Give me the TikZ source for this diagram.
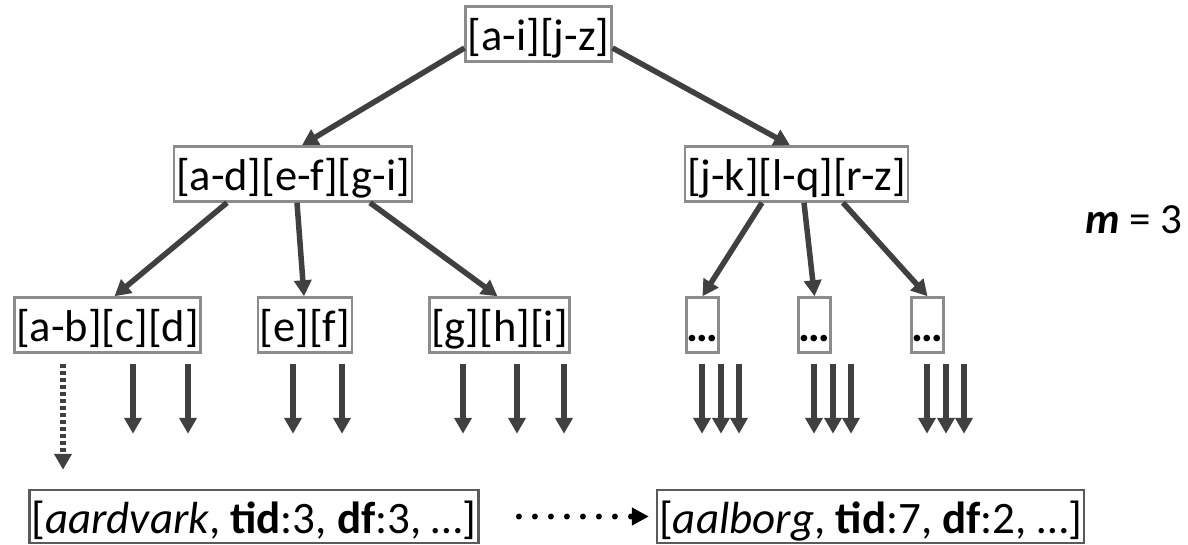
\documentclass[tikz,border=0pt]{standalone}
\usepackage{fontspec}
\setmainfont{Carlito}
\usetikzlibrary{arrows.meta}
\definecolor{edgegray}{HTML}{404040}
\definecolor{boxgray}{HTML}{8C8C8C}
\definecolor{leafgray}{HTML}{5A5A5A}
\begin{document}
\begin{tikzpicture}[x=1pt,y=-1pt,
  keybox/.style={draw=boxgray,line width=2.5pt,fill=white,inner xsep=2pt,inner ysep=2pt,
    text height=42pt,text depth=9pt,font=\fontsize{44.5}{50}\selectfont,anchor=center},
  postbox/.style={draw=leafgray,line width=2.5pt,fill=white,inner xsep=2pt,inner ysep=2pt,
    text height=41pt,text depth=8pt,font=\fontsize{45}{50}\selectfont},
  treeedge/.style={draw=edgegray,line width=5.5pt,-{Triangle[width=17pt,length=16pt]}},
  ptr/.style={draw=edgegray,line width=5.5pt,-{Triangle[width=17pt,length=16pt]}},
  ptrdots/.style={ptr,dash pattern=on 4pt off 3pt},
  listlink/.style={draw=black,line width=6pt,line cap=round,dash pattern=on 0pt off 16pt,
    -{Triangle[width=17pt,length=17pt,line cap=butt]}}
]
\useasboundingbox (0,0) rectangle (1188,545);

% root and inner levels of the B-tree
\node[keybox] (root) at (538.5,34) {[a-i][j-z]};
\node[keybox] (ag) at (293,174) {[a-d][e-f][g-i]};
\node[keybox] (jz) at (796.5,174) {[j-k][l-q][r-z]};

\node[keybox] (ad) at (107.5,325) {[a-b][c][d]};
\node[keybox] (ef) at (305,325) {[e][f]};
\node[keybox] (gi) at (499.5,325) {[g][h][i]};
\node[keybox,inner xsep=0pt] (r1) at (702.5,325) {\textbf{…}};
\node[keybox,inner xsep=0pt] (r2) at (814.5,325) {\textbf{…}};
\node[keybox,inner xsep=0pt] (r3) at (927.5,325) {\textbf{…}};

% branching factor
\node[font=\fontsize{43}{50}\selectfont,anchor=center] (mlabel) at (1134,220) {\textbf{\textit{m}} = 3};

% postings entries in the leaves
\node[postbox] (aard) at (254,516.5) {[\textit{aardvark}, \textbf{tid}:3, \textbf{df}:3, …]};
\node[postbox] (aalb) at (870.5,516.5) {[\textit{aalborg}, \textbf{tid}:7, \textbf{df}:2, …]};

% tree edges
\draw[treeedge] ([yshift=-14pt]root.west) -- ([xshift=9pt]ag.north);
\draw[treeedge] ([yshift=-14pt]root.east) -- ([xshift=-6.5pt]jz.north);

\draw[treeedge] ([xshift=-66pt]ag.south) -- ([xshift=7pt]ad.north);
\draw[treeedge] ([xshift=4pt]ag.south) -- ([xshift=-1pt]ef.north);
\draw[treeedge] ([xshift=77pt]ag.south) -- ([xshift=-2pt]gi.north);

\draw[treeedge] ([xshift=-34.5pt]jz.south) -- (r1.north);
\draw[treeedge] ([xshift=7.5pt]jz.south) -- (r2.north);
\draw[treeedge] ([xshift=46.5pt]jz.south) -- (r3.north);

% child pointers below the leaves
\draw[ptrdots] ([xshift=-44.5pt,yshift=-10pt]ad.south) -- ++(0,106);
\foreach \dx in {25.5,80.5} \draw[ptr] ([xshift=\dx pt,yshift=-10pt]ad.south) -- ++(0,70);
\foreach \dx in {-12,37} \draw[ptr] ([xshift=\dx pt,yshift=-10pt]ef.south) -- ++(0,70);
\foreach \dx in {-36.5,17.5,64.5} \draw[ptr] ([xshift=\dx pt,yshift=-10pt]gi.south) -- ++(0,70);
\foreach \n in {r1,r2,r3}
  \foreach \dx in {-0.5,18.5,36.5} \draw[ptr] ([xshift=\dx pt,yshift=-10pt]\n.south) -- ++(0,70);

% link between consecutive postings
\draw[listlink] ([xshift=39pt]aard.east) -- ([xshift=-7pt]aalb.west);
\end{tikzpicture}
\end{document}
